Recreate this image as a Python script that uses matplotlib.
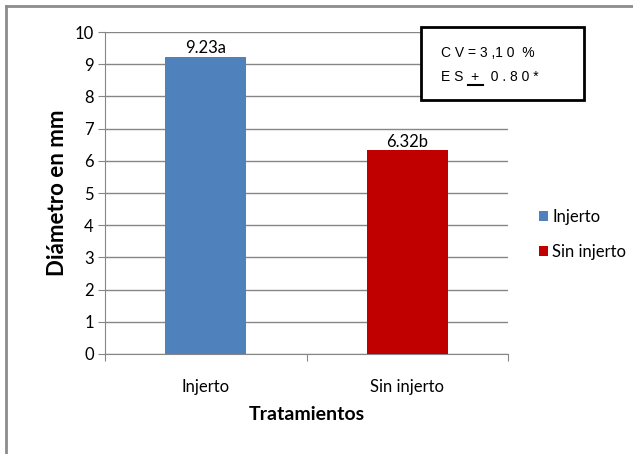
import matplotlib
matplotlib.use('Agg')
import matplotlib.pyplot as plt
from matplotlib.patches import Rectangle
from matplotlib.lines import Line2D

# Data
categories = ['Injerto', 'Sin injerto']
values = [9.23, 6.32]
bar_labels = ['9.23a', '6.32b']
colors = ['#4F81BD', '#C00000']
y_ticks = list(range(0, 11))

plt.rcParams['font.family'] = ['Lato', 'DejaVu Sans']

W, H = 633, 454
fig = plt.figure(figsize=(W / 100, H / 100), dpi=100)

# outer chart border (left and top visible)
fig.add_artist(Line2D([6 / W, 6 / W], [0, 1 - 6 / H], color='#8c8c8c', lw=2))
fig.add_artist(Line2D([6 / W, 1], [1 - 6 / H, 1 - 6 / H], color='#8c8c8c', lw=2))

ax = fig.add_axes([105 / W, (H - 354) / H, (508 - 105) / W, (354 - 32) / H])

x = range(len(categories))
bars = ax.bar(x, values, width=0.4, color=colors, label=categories, zorder=3)

for b, lbl in zip(bars, bar_labels):
    ax.text(b.get_x() + b.get_width() / 2, b.get_height() + 0.03, lbl,
            ha='center', va='bottom', fontsize=12)

ax.set_xlim(-0.5, 1.5)
ax.set_ylim(0, 10)
ax.set_yticks(y_ticks)
ax.set_xticks([-0.5, 0.5, 1.5], minor=False)
ax.set_xticklabels(['', '', ''])
ax.set_xticks([0, 1], minor=True)
ax.set_xticklabels(categories, minor=True, fontsize=12)
ax.tick_params(axis='x', which='minor', length=0, pad=18)
ax.tick_params(axis='x', which='major', length=5, color='#868686')
ax.tick_params(axis='y', length=5, color='#868686', labelsize=12, pad=3)

ax.grid(axis='y', color='#868686', lw=1, zorder=0)
for s in ['top', 'right']:
    ax.spines[s].set_visible(False)
for s in ['left', 'bottom']:
    ax.spines[s].set_color('#868686')

ax.set_ylabel('Diámetro en mm', fontsize=16, fontweight='bold', labelpad=5)
ax.set_xlabel('Tratamientos', fontsize=14, fontweight='bold', labelpad=8)

leg = fig.legend(handles=bars, labels=categories, loc='upper left',
                 bbox_to_anchor=(524 / W, 1 - 194 / H), frameon=False,
                 fontsize=12, handlelength=0.55, handleheight=0.55,
                 handletextpad=0.25, labelspacing=1.15)

# statistics box
fig.add_artist(Rectangle((421 / W, 1 - 100 / H), (584 - 421) / W, (100 - 27) / H,
                         transform=fig.transFigure, fill=True, facecolor='white',
                         edgecolor='black', lw=2, zorder=5))
fig.text(441 / W, 1 - 53 / H, 'C V = 3 ,1 0  %', fontsize=10,
         family='Liberation Sans', va='center', zorder=6)
fig.text(441 / W, 1 - 77 / H, 'E S  +   0 . 8 0 *', fontsize=10,
         family='Liberation Sans', va='center', zorder=6)
fig.add_artist(Line2D([468 / W, 483 / W], [1 - 85 / H, 1 - 85 / H],
                      color='black', lw=1.5, zorder=6))

fig.savefig('out.png', dpi=100)
